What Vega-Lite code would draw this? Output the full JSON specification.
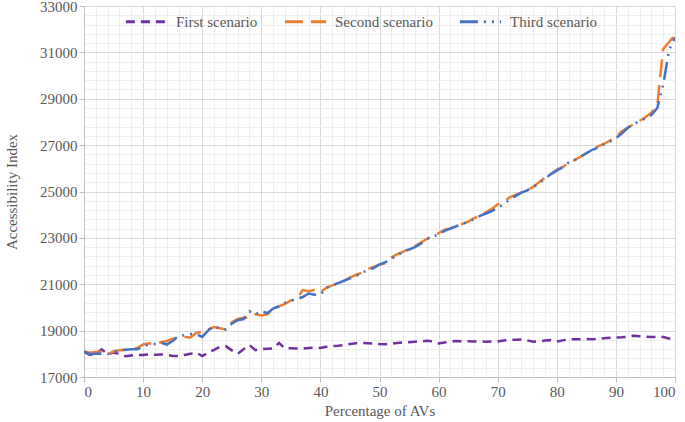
{
  "$schema": "https://vega.github.io/schema/vega-lite/v6.json",
  "width": 591,
  "height": 371,
  "autosize": {"type": "none"},
  "padding": {"left": 84, "top": 6, "right": 10, "bottom": 45},
  "background": "white",
  "data": {
    "values": [
      {"p": 0, "First scenario": 18090, "Second scenario": 18100, "Third scenario": 18100},
      {"p": 1, "First scenario": 17950, "Second scenario": 18050, "Third scenario": 17980},
      {"p": 2, "First scenario": 18000, "Second scenario": 18080, "Third scenario": 18000},
      {"p": 3, "First scenario": 18190, "Second scenario": 18100, "Third scenario": 18000},
      {"p": 4, "First scenario": 17980, "Second scenario": 17990, "Third scenario": 17990},
      {"p": 5, "First scenario": 18050, "Second scenario": 18100, "Third scenario": 18100},
      {"p": 6, "First scenario": 18000, "Second scenario": 18150, "Third scenario": 18150},
      {"p": 7, "First scenario": 17900, "Second scenario": 18180, "Third scenario": 18180},
      {"p": 8, "First scenario": 17930, "Second scenario": 18200, "Third scenario": 18200},
      {"p": 9, "First scenario": 17950, "Second scenario": 18250, "Third scenario": 18200},
      {"p": 10, "First scenario": 17950, "Second scenario": 18400, "Third scenario": 18300},
      {"p": 11, "First scenario": 17970, "Second scenario": 18450, "Third scenario": 18420},
      {"p": 12, "First scenario": 17960, "Second scenario": 18420, "Third scenario": 18420},
      {"p": 13, "First scenario": 17975, "Second scenario": 18500, "Third scenario": 18480},
      {"p": 14, "First scenario": 17950, "Second scenario": 18550, "Third scenario": 18400},
      {"p": 15, "First scenario": 17910, "Second scenario": 18650, "Third scenario": 18550},
      {"p": 16, "First scenario": 17900, "Second scenario": 18700, "Third scenario": 18780},
      {"p": 17, "First scenario": 17950, "Second scenario": 18720, "Third scenario": 18800},
      {"p": 18, "First scenario": 18000, "Second scenario": 18700, "Third scenario": 18850},
      {"p": 19, "First scenario": 18050, "Second scenario": 18900, "Third scenario": 18850},
      {"p": 20, "First scenario": 17900, "Second scenario": 18950, "Third scenario": 18730},
      {"p": 21, "First scenario": 18050, "Second scenario": 19050, "Third scenario": 19000},
      {"p": 22, "First scenario": 18170, "Second scenario": 19150, "Third scenario": 19200},
      {"p": 23, "First scenario": 18300, "Second scenario": 19100, "Third scenario": 19080},
      {"p": 24, "First scenario": 18330, "Second scenario": 19050, "Third scenario": 19050},
      {"p": 25, "First scenario": 18150, "Second scenario": 19350, "Third scenario": 19300},
      {"p": 26, "First scenario": 18000, "Second scenario": 19500, "Third scenario": 19450},
      {"p": 27, "First scenario": 18200, "Second scenario": 19550, "Third scenario": 19500},
      {"p": 28, "First scenario": 18380, "Second scenario": 19550, "Third scenario": 19830},
      {"p": 29, "First scenario": 18160, "Second scenario": 19700, "Third scenario": 19700},
      {"p": 30, "First scenario": 18200, "Second scenario": 19650, "Third scenario": 19850},
      {"p": 31, "First scenario": 18220, "Second scenario": 19700, "Third scenario": 19750},
      {"p": 32, "First scenario": 18230, "Second scenario": 19950, "Third scenario": 19950},
      {"p": 33, "First scenario": 18470, "Second scenario": 20050, "Third scenario": 20050},
      {"p": 34, "First scenario": 18230, "Second scenario": 20150, "Third scenario": 20200},
      {"p": 35, "First scenario": 18240, "Second scenario": 20300, "Third scenario": 20300},
      {"p": 36, "First scenario": 18230, "Second scenario": 20350, "Third scenario": 20350},
      {"p": 37, "First scenario": 18230, "Second scenario": 20750, "Third scenario": 20450},
      {"p": 38, "First scenario": 18250, "Second scenario": 20700, "Third scenario": 20600},
      {"p": 39, "First scenario": 18270, "Second scenario": 20750, "Third scenario": 20550},
      {"p": 40, "First scenario": 18250, "Second scenario": 20650, "Third scenario": 20550},
      {"p": 41, "First scenario": 18300, "Second scenario": 20850, "Third scenario": 20850},
      {"p": 42, "First scenario": 18330, "Second scenario": 20950, "Third scenario": 20950},
      {"p": 43, "First scenario": 18350, "Second scenario": 21050, "Third scenario": 21050},
      {"p": 44, "First scenario": 18380, "Second scenario": 21150, "Third scenario": 21150},
      {"p": 45, "First scenario": 18420, "Second scenario": 21300, "Third scenario": 21250},
      {"p": 46, "First scenario": 18460, "Second scenario": 21400, "Third scenario": 21350},
      {"p": 47, "First scenario": 18470, "Second scenario": 21500, "Third scenario": 21500},
      {"p": 48, "First scenario": 18460, "Second scenario": 21650, "Third scenario": 21600},
      {"p": 49, "First scenario": 18440, "Second scenario": 21750, "Third scenario": 21700},
      {"p": 50, "First scenario": 18420, "Second scenario": 21850, "Third scenario": 21850},
      {"p": 51, "First scenario": 18410, "Second scenario": 21900, "Third scenario": 21950},
      {"p": 52, "First scenario": 18440, "Second scenario": 22150, "Third scenario": 22100},
      {"p": 53, "First scenario": 18470, "Second scenario": 22300, "Third scenario": 22250},
      {"p": 54, "First scenario": 18490, "Second scenario": 22400, "Third scenario": 22400},
      {"p": 55, "First scenario": 18500, "Second scenario": 22550, "Third scenario": 22500},
      {"p": 56, "First scenario": 18520, "Second scenario": 22650, "Third scenario": 22600},
      {"p": 57, "First scenario": 18540, "Second scenario": 22800, "Third scenario": 22750},
      {"p": 58, "First scenario": 18560, "Second scenario": 22950, "Third scenario": 22950},
      {"p": 59, "First scenario": 18540, "Second scenario": 23100, "Third scenario": 23050},
      {"p": 60, "First scenario": 18450, "Second scenario": 23200, "Third scenario": 23150},
      {"p": 61, "First scenario": 18490, "Second scenario": 23350, "Third scenario": 23300},
      {"p": 62, "First scenario": 18530, "Second scenario": 23400, "Third scenario": 23400},
      {"p": 63, "First scenario": 18550, "Second scenario": 23550, "Third scenario": 23500},
      {"p": 64, "First scenario": 18540, "Second scenario": 23600, "Third scenario": 23600},
      {"p": 65, "First scenario": 18540, "Second scenario": 23700, "Third scenario": 23700},
      {"p": 66, "First scenario": 18535, "Second scenario": 23850, "Third scenario": 23800},
      {"p": 67, "First scenario": 18530, "Second scenario": 23950, "Third scenario": 23950},
      {"p": 68, "First scenario": 18520, "Second scenario": 24100, "Third scenario": 24050},
      {"p": 69, "First scenario": 18530, "Second scenario": 24250, "Third scenario": 24150},
      {"p": 70, "First scenario": 18535, "Second scenario": 24450, "Third scenario": 24300},
      {"p": 71, "First scenario": 18570, "Second scenario": 24550, "Third scenario": 24450},
      {"p": 72, "First scenario": 18600, "Second scenario": 24750, "Third scenario": 24650},
      {"p": 73, "First scenario": 18610, "Second scenario": 24850, "Third scenario": 24800},
      {"p": 74, "First scenario": 18620, "Second scenario": 24950, "Third scenario": 24950},
      {"p": 75, "First scenario": 18580, "Second scenario": 25050, "Third scenario": 25050},
      {"p": 76, "First scenario": 18520, "Second scenario": 25200, "Third scenario": 25200},
      {"p": 77, "First scenario": 18540, "Second scenario": 25400, "Third scenario": 25350},
      {"p": 78, "First scenario": 18570, "Second scenario": 25600, "Third scenario": 25550},
      {"p": 79, "First scenario": 18590, "Second scenario": 25750, "Third scenario": 25750},
      {"p": 80, "First scenario": 18530, "Second scenario": 25950, "Third scenario": 25900},
      {"p": 81, "First scenario": 18580, "Second scenario": 26050, "Third scenario": 26050},
      {"p": 82, "First scenario": 18620, "Second scenario": 26250, "Third scenario": 26250},
      {"p": 83, "First scenario": 18630, "Second scenario": 26350, "Third scenario": 26350},
      {"p": 84, "First scenario": 18630, "Second scenario": 26500, "Third scenario": 26500},
      {"p": 85, "First scenario": 18640, "Second scenario": 26650, "Third scenario": 26650},
      {"p": 86, "First scenario": 18630, "Second scenario": 26800, "Third scenario": 26800},
      {"p": 87, "First scenario": 18650, "Second scenario": 26950, "Third scenario": 26900},
      {"p": 88, "First scenario": 18670, "Second scenario": 27050, "Third scenario": 27050},
      {"p": 89, "First scenario": 18690, "Second scenario": 27200, "Third scenario": 27150},
      {"p": 90, "First scenario": 18700, "Second scenario": 27350, "Third scenario": 27300},
      {"p": 91, "First scenario": 18710, "Second scenario": 27600, "Third scenario": 27500},
      {"p": 92, "First scenario": 18740, "Second scenario": 27750, "Third scenario": 27750},
      {"p": 93, "First scenario": 18780, "Second scenario": 27900, "Third scenario": 27900},
      {"p": 94, "First scenario": 18760, "Second scenario": 28050, "Third scenario": 28050},
      {"p": 95, "First scenario": 18740, "Second scenario": 28200, "Third scenario": 28150},
      {"p": 96, "First scenario": 18730, "Second scenario": 28400, "Third scenario": 28300},
      {"p": 97, "First scenario": 18730, "Second scenario": 28700, "Third scenario": 28600},
      {"p": 98, "First scenario": 18720, "Second scenario": 31150, "Third scenario": 29600},
      {"p": 99, "First scenario": 18660, "Second scenario": 31450, "Third scenario": 31100},
      {"p": 100, "First scenario": 18630, "Second scenario": 31750, "Third scenario": 31650}
    ]
  },
  "transform": [
    {"fold": ["First scenario", "Second scenario", "Third scenario"], "as": ["scenario", "index"]}
  ],
  "mark": {"type": "line", "strokeWidth": 2.5, "strokeCap": "butt", "clip": true},
  "encoding": {
    "x": {
      "field": "p",
      "type": "quantitative",
      "title": "Percentage of  AVs",
      "scale": {"domain": [0, 100], "nice": false},
      "axis": {
        "values": [0, 2, 4, 6, 8, 10, 12, 14, 16, 18, 20, 22, 24, 26, 28, 30, 32, 34, 36, 38, 40, 42, 44, 46, 48, 50, 52, 54, 56, 58, 60, 62, 64, 66, 68, 70, 72, 74, 76, 78, 80, 82, 84, 86, 88, 90, 92, 94, 96, 98, 100],
        "labelExpr": "datum.value % 10 === 0 ? datum.label : ''",
        "labelFont": "Liberation Serif",
        "titleFont": "Liberation Serif",
        "gridColor": {"condition": {"test": "datum.value % 10 === 0", "value": "#d9d9d9"}, "value": "#efefef"},
        "tickColor": {"condition": {"test": "datum.value % 10 === 0", "value": "#bfbfbf"}, "value": "transparent"},
        "titlePadding": 4
      }
    },
    "y": {
      "field": "index",
      "type": "quantitative",
      "title": "Accessibility Index",
      "scale": {"domain": [17000, 33000], "nice": false},
      "axis": {
        "values": [17000, 17400, 17800, 18200, 18600, 19000, 19400, 19800, 20200, 20600, 21000, 21400, 21800, 22200, 22600, 23000, 23400, 23800, 24200, 24600, 25000, 25400, 25800, 26200, 26600, 27000, 27400, 27800, 28200, 28600, 29000, 29400, 29800, 30200, 30600, 31000, 31400, 31800, 32200, 32600, 33000],
        "format": "d",
        "labelExpr": "datum.value % 2000 === 1000 ? datum.label : ''",
        "labelFont": "Liberation Serif",
        "titleFont": "Liberation Serif",
        "gridColor": {"condition": {"test": "datum.value % 2000 === 1000", "value": "#d9d9d9"}, "value": "#efefef"},
        "tickColor": {"condition": {"test": "datum.value % 2000 === 1000", "value": "#bfbfbf"}, "value": "transparent"},
        "titlePadding": 20
      }
    },
    "color": {
      "field": "scenario",
      "type": "nominal",
      "scale": {"domain": ["First scenario", "Second scenario", "Third scenario"], "range": ["#7030A0", "#ED7D31", "#4472C4"]},
      "legend": {
        "title": null,
        "orient": "none",
        "direction": "horizontal",
        "legendX": 40,
        "legendY": -7,
        "symbolType": "stroke",
        "symbolSize": 1700,
        "symbolStrokeWidth": 3,
        "labelFont": "Liberation Serif",
        "labelFontSize": 15,
        "labelOffset": 7,
        "columnPadding": 20
      }
    },
    "strokeDash": {
      "field": "scenario",
      "type": "nominal",
      "scale": {"domain": ["First scenario", "Second scenario", "Third scenario"], "range": [[9, 6], [18, 8], [18, 6, 2, 6, 2, 6]]},
      "legend": null
    }
  },
  "config": {
    "font": "Liberation Serif",
    "view": {"stroke": null},
    "axis": {
      "labelFontSize": 15,
      "titleFontSize": 15,
      "labelColor": "#595959",
      "titleColor": "#595959",
      "titleFontWeight": "normal",
      "domainColor": "#bfbfbf",
      "tickSize": 5,
      "gridWidth": 1
    },
    "legend": {"labelColor": "#595959"}
  }
}
